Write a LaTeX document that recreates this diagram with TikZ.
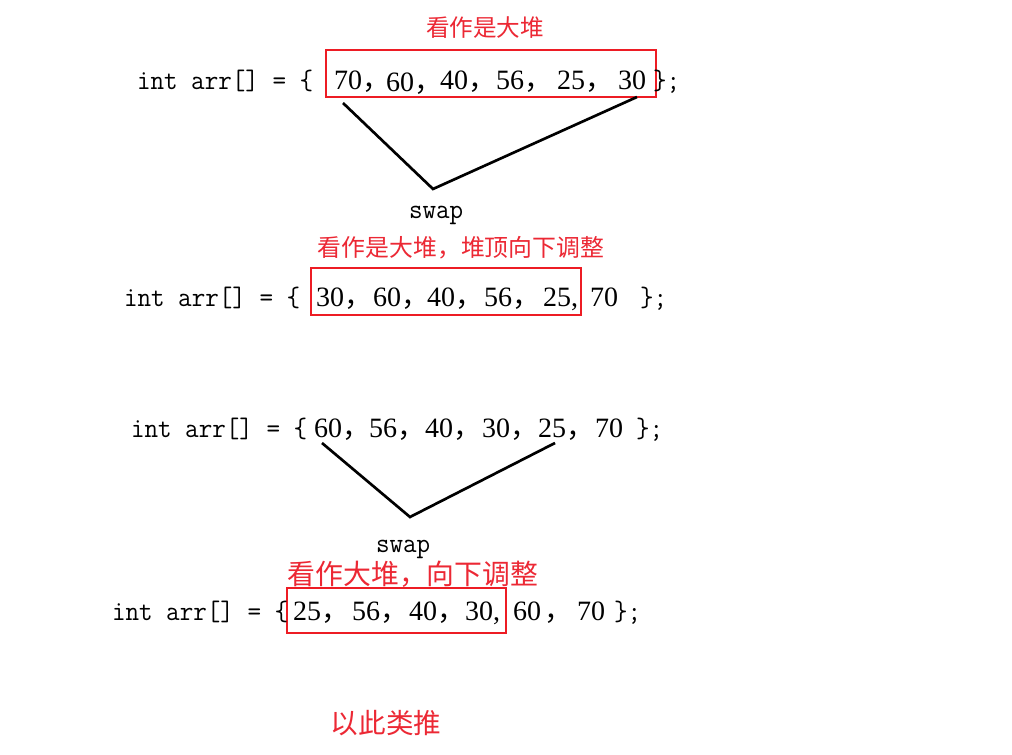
\documentclass[tikz,border=0pt]{standalone}
\usepackage{fontspec}
\usepackage{graphicx}
\setmainfont{Liberation Serif}
\newfontfamily\numfont{Liberation Serif}
\newfontfamily\cjk{Noto Sans CJK SC}
\definecolor{boxred}{RGB}{237,28,36}
\definecolor{txtred}{RGB}{236,40,52}
\newcommand\cd[1]{{\ttfamily\fontsize{21}{21}\selectfont\scalebox{0.94}[1]{#1}}}
\newcommand\cm[1]{\makebox[8pt][l]{\cjk\fontsize{21}{21}\selectfont #1}}
\newcommand\nm[2]{{\numfont\fontsize{21}{21}\selectfont #1}\cm{#2}}
\newcommand\nn[1]{{\numfont\fontsize{21}{21}\selectfont #1}}
\tikzset{
  txt/.style={anchor=base west, inner sep=0pt, outer sep=0pt},
  redlbl/.style={inner sep=0pt, outer sep=0pt, text=txtred},
  redbox/.style={draw=boxred, line width=2.2pt},
  swapline/.style={draw=black, line width=2pt, line join=miter},
}
\begin{document}
\begin{tikzpicture}[x=0.75pt,y=-0.75pt]
\useasboundingbox[fill=white] (0,0) rectangle (1012,755);

% ---------- line 1 ----------
\node[redlbl] (r1) at (485,28) {\cjk\fontsize{17.7}{18}\selectfont 看作是大堆};
\draw[redbox] (326,50) rectangle (656,97);
\node[txt] (c1) at (137,90) {\cd{int arr[] = \{}};
\node[txt] (n11) at (334,90) {\nm{70}{，}};
\node[txt] (n12) at (386,92) {\nm{60}{，}};
\node[txt] (n13) at (440,90) {\nm{40}{，}};
\node[txt] (n14) at (496,90) {\nm{56}{，}};
\node[txt] (n15) at (557,90) {\nm{25}{，}};
\node[txt] (n16) at (618,90) {\nn{30}};
\node[txt] (e1) at (653,90) {\cd{\};}};
\coordinate (s1a) at (343,103);
\coordinate (s1v) at (433,189);
\coordinate (s1b) at (637,97);
\draw[swapline] (s1a) -- (s1v) -- (s1b);
\node[txt] (w1) at (409,219) {\cd{swap}};

% ---------- line 2 ----------
\node[redlbl] (r2) at (461,248) {\cjk\fontsize{17.9}{18}\selectfont 看作是大堆，堆顶向下调整};
\draw[redbox] (311,268) rectangle (581,315);
\node[txt] (c2) at (124,306) {\cd{int arr[] = \{}};
\node[txt] (n21) at (316,306) {\nm{30}{，}};
\node[txt] (n22) at (373,306) {\nm{60}{，}};
\node[txt] (n23) at (427,306) {\nm{40}{，}};
\node[txt] (n24) at (484,306) {\nm{56}{，}};
\node[txt] (n25) at (543,306) {\nn{25,}};
\node[txt] (n26) at (590,306) {\nn{70}};
\node[txt] (e2) at (640,306) {\cd{\};}};

% ---------- line 3 ----------
\node[txt] (c3) at (131,437) {\cd{int arr[] = \{}};
\node[txt] (n31) at (314,437) {\nm{60}{，}};
\node[txt] (n32) at (369,437) {\nm{56}{，}};
\node[txt] (n33) at (425,437) {\nm{40}{，}};
\node[txt] (n34) at (482,437) {\nm{30}{，}};
\node[txt] (n35) at (538,437) {\nm{25}{，}};
\node[txt] (n36) at (595,437) {\nn{70}};
\node[txt] (e3) at (636,437) {\cd{\};}};
\coordinate (s3a) at (322,443);
\coordinate (s3v) at (410,517);
\coordinate (s3b) at (555,443);
\draw[swapline] (s3a) -- (s3v) -- (s3b);
\node[txt] (w3) at (376,552) {\cd{swap}};

% ---------- line 4 ----------
\node[redlbl] (r4) at (413,574) {\cjk\fontsize{20.9}{21}\selectfont 看作大堆，向下调整};
\draw[redbox] (287,588) rectangle (506,633);
\node[txt] (c4) at (112,620) {\cd{int arr[] = \{}};
\node[txt] (n41) at (293,620) {\nm{25}{，}};
\node[txt] (n42) at (352,620) {\nm{56}{，}};
\node[txt] (n43) at (409,620) {\nm{40}{，}};
\node[txt] (n44) at (465,620) {\nn{30,}};
\node[txt] (n45) at (513,620) {\nn{60}};
\node[txt] (k45) at (544,620) {\cm{，}};
\node[txt] (n46) at (577,620) {\nn{70}};
\node[txt] (e4) at (614,620) {\cd{\};}};

% ---------- footer ----------
\node[redlbl] (r5) at (386,723) {\cjk\fontsize{20.7}{21}\selectfont 以此类推};
\end{tikzpicture}
\end{document}
